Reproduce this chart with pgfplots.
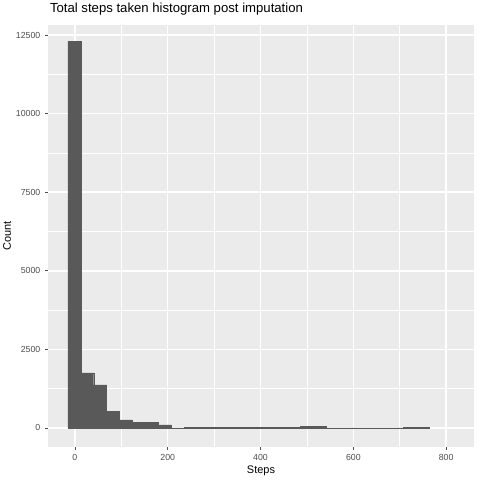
\documentclass[border=0pt]{standalone}
\usepackage{pgfplots}
\pgfplotsset{compat=1.18}
\usepackage{fontspec}
\setmainfont{Liberation Sans}
\definecolor{panel}{HTML}{EBEBEB}
\definecolor{barc}{HTML}{595959}
\definecolor{tickc}{HTML}{4D4D4D}
\begin{document}
\begin{tikzpicture}
\useasboundingbox[fill=white] (0,0) rectangle (360bp,360bp);
\begin{axis}[at={(36bp,24.75bp)},anchor=south west,scale only axis,
 width=319.5bp,height=316.5bp,
 xmin=-58,xmax=860,ymin=-605,ymax=12818,
 axis background/.style={fill=panel},axis line style={draw=none},
 xtick={0,200,400,600,800},ytick={0,2500,5000,7500,10000,12500},
 minor xtick={100,300,500,700},minor ytick={1250,3750,6250,8750,11250},
 grid=both,major grid style={white,line width=1.1pt},minor grid style={white,line width=0.5pt},
 tick style={tickc,line width=0.5pt},major tick length=2.2bp,minor tick length=0pt,
 tick align=outside,xtick pos=bottom,ytick pos=left,
 ticklabel style={font=\fontsize{6.6}{7}\selectfont,text=tickc},
 /pgf/number format/assume math mode=true,scaled y ticks=false,
 /pgf/number format/set thousands separator={},
 xlabel={Steps},ylabel={Count},
 label style={font=\fontsize{8.25}{9}\selectfont},
 xlabel style={yshift=3pt},ylabel style={yshift=-3pt},
 title={Total steps taken histogram post imputation},
 title style={font=\fontsize{9.9}{11}\selectfont,anchor=south west,at={(0,1)},xshift=-2pt,yshift=-2pt},
]
\addplot[ybar interval,fill=barc,draw=barc,line width=0.3pt] coordinates {
(-15.1,12300)(12.7,1750)(40.5,1370)(68.3,540)(96.1,255)(123.9,170)(151.7,170)(179.5,100)
(207.3,0)(235.1,25)(262.9,25)(290.7,25)(318.5,25)(346.3,25)(374.1,25)(401.9,25)(429.7,25)(457.5,25)
(485.3,60)(513.1,60)(540.9,0)(568.7,0)(596.5,0)(624.3,0)(652.1,0)(679.9,0)(707.7,30)(735.5,30)(763.3,0)};
\end{axis}
\end{tikzpicture}
\end{document}
